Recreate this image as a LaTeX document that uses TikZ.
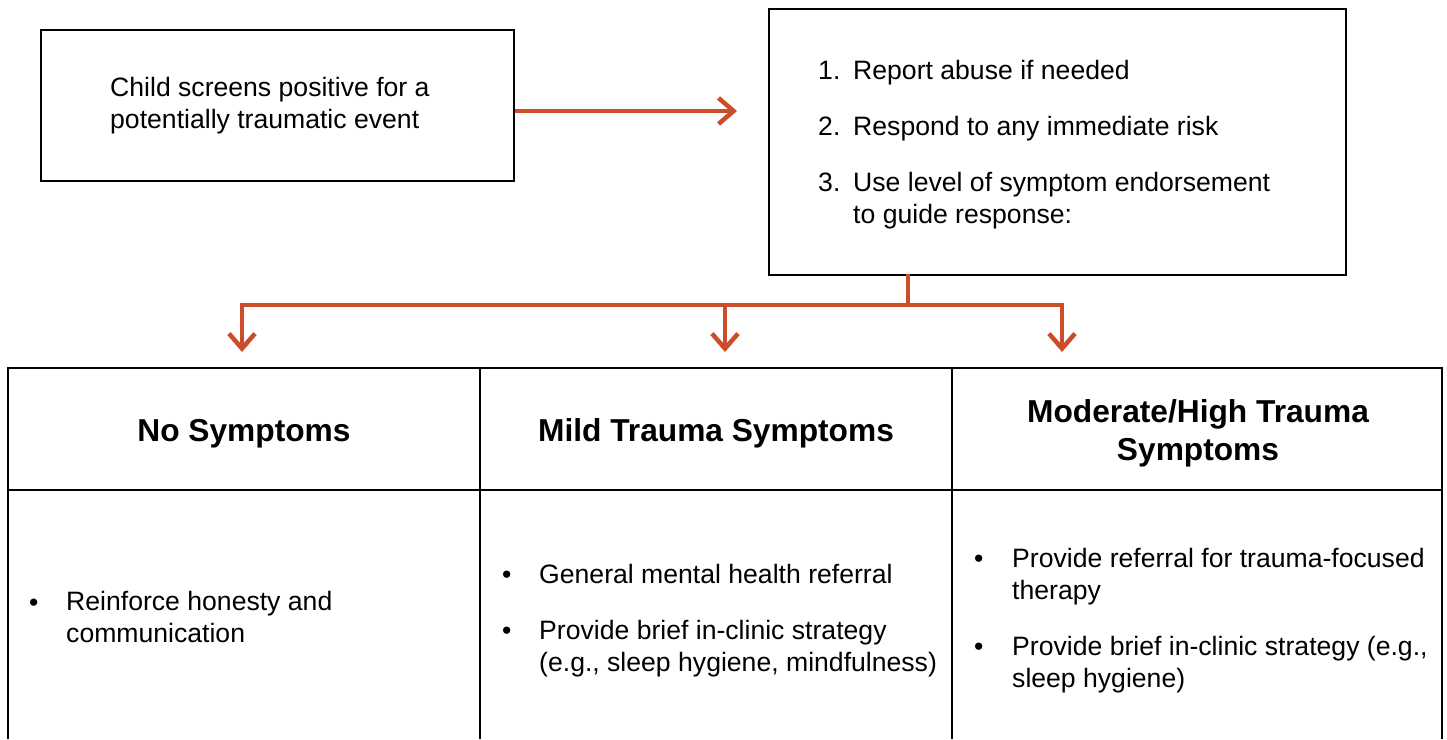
\documentclass[tikz,border=0pt]{standalone}
\usepackage{fontspec}
\setmainfont{Liberation Sans}
\usetikzlibrary{arrows.meta}
\definecolor{flowred}{RGB}{204,77,42}

\tikzset{
  box/.style={draw, line width=2pt, anchor=north west},
  txt/.style={anchor=base west, inner sep=0pt, align=left, font=\fontsize{26.6}{31.5}\selectfont},
  head/.style={anchor=base, inner sep=0pt, align=center, font=\fontsize{31.7}{38}\selectfont\bfseries},
  branch/.style={flowred, line width=4.5pt, line cap=rect},
  flow/.style={flowred, line width=4.5pt, -{Straight Barb[length=15pt,width=26pt]}},
}

\begin{document}
\begin{tikzpicture}[x=1pt,y=-1pt]
    \useasboundingbox (0,0) rectangle (1447,739);

    % top boxes
    \node[box, minimum width=473pt, minimum height=151pt] (screen) at (40,29) {};
    \node[box, minimum width=577pt, minimum height=266pt] (steps) at (768,8) {};

    % base of a node with two lines = base of its last line
    \node[txt] (screentxt) at (110,128) {Child screens positive for a\\potentially traumatic event};

    \node[txt] (n1) at (818,79) {1.};
    \node[txt] (s1) at (853,79) {Report abuse if needed};
    \node[txt] (n2) at (818,135) {2.};
    \node[txt] (s2) at (853,135) {Respond to any immediate risk};
    \node[txt] (n3) at (818,191) {3.};
    \node[txt] (s3) at (853,223) {Use level of symptom endorsement\\to guide response:};

    % arrows
    \coordinate (stepsin) at (737,111);
    \coordinate (fork) at (908,305);
    \coordinate (tonone) at (242,352);
    \coordinate (tomild) at (725,352);
    \coordinate (tomod) at (1062,352);
    \draw[flow] (screen.east |- stepsin) -- (stepsin);
    \draw[branch] (steps.south -| fork) -- (fork);
    \draw[branch] (tonone |- fork) -- (tomod |- fork);
    \foreach \t in {tonone,tomild,tomod}
      \draw[flow] (\t |- fork) -- (\t);

    % table
    \draw[line width=2pt] (8,739) -- (8,368) -- (1442,368) -- (1442,739);
    \draw[line width=2pt] (8,490) -- (1442,490);
    \draw[line width=2pt] (480,368) -- (480,739);
    \draw[line width=2pt] (952,368) -- (952,739);

    \node[head] (nonehead) at (244,441) {No Symptoms};
    \node[head] (mildhead) at (716,441) {Mild Trauma Symptoms};
    \node[head] (modhead) at (1198,460) {Moderate/High Trauma\\Symptoms};

    % bullets
    \node[txt] (b1) at (29,611) {\textbullet};
    \node[txt] (nonetxt) at (66,642) {Reinforce honesty and\\communication};

    \node[txt] (b2) at (502,583) {\textbullet};
    \node[txt] (mildtxt1) at (539,583) {General mental health referral};
    \node[txt] (b3) at (502,639) {\textbullet};
    \node[txt] (mildtxt2) at (539,671) {Provide brief in-clinic strategy\\(e.g., sleep hygiene, mindfulness)};

    \node[txt] (b4) at (974,567) {\textbullet};
    \node[txt] (modtxt1) at (1012,599) {Provide referral for trauma-focused\\therapy};
    \node[txt] (b5) at (974,655) {\textbullet};
    \node[txt] (modtxt2) at (1012,687) {Provide brief in-clinic strategy (e.g.,\\sleep hygiene)};
\end{tikzpicture}
\end{document}
